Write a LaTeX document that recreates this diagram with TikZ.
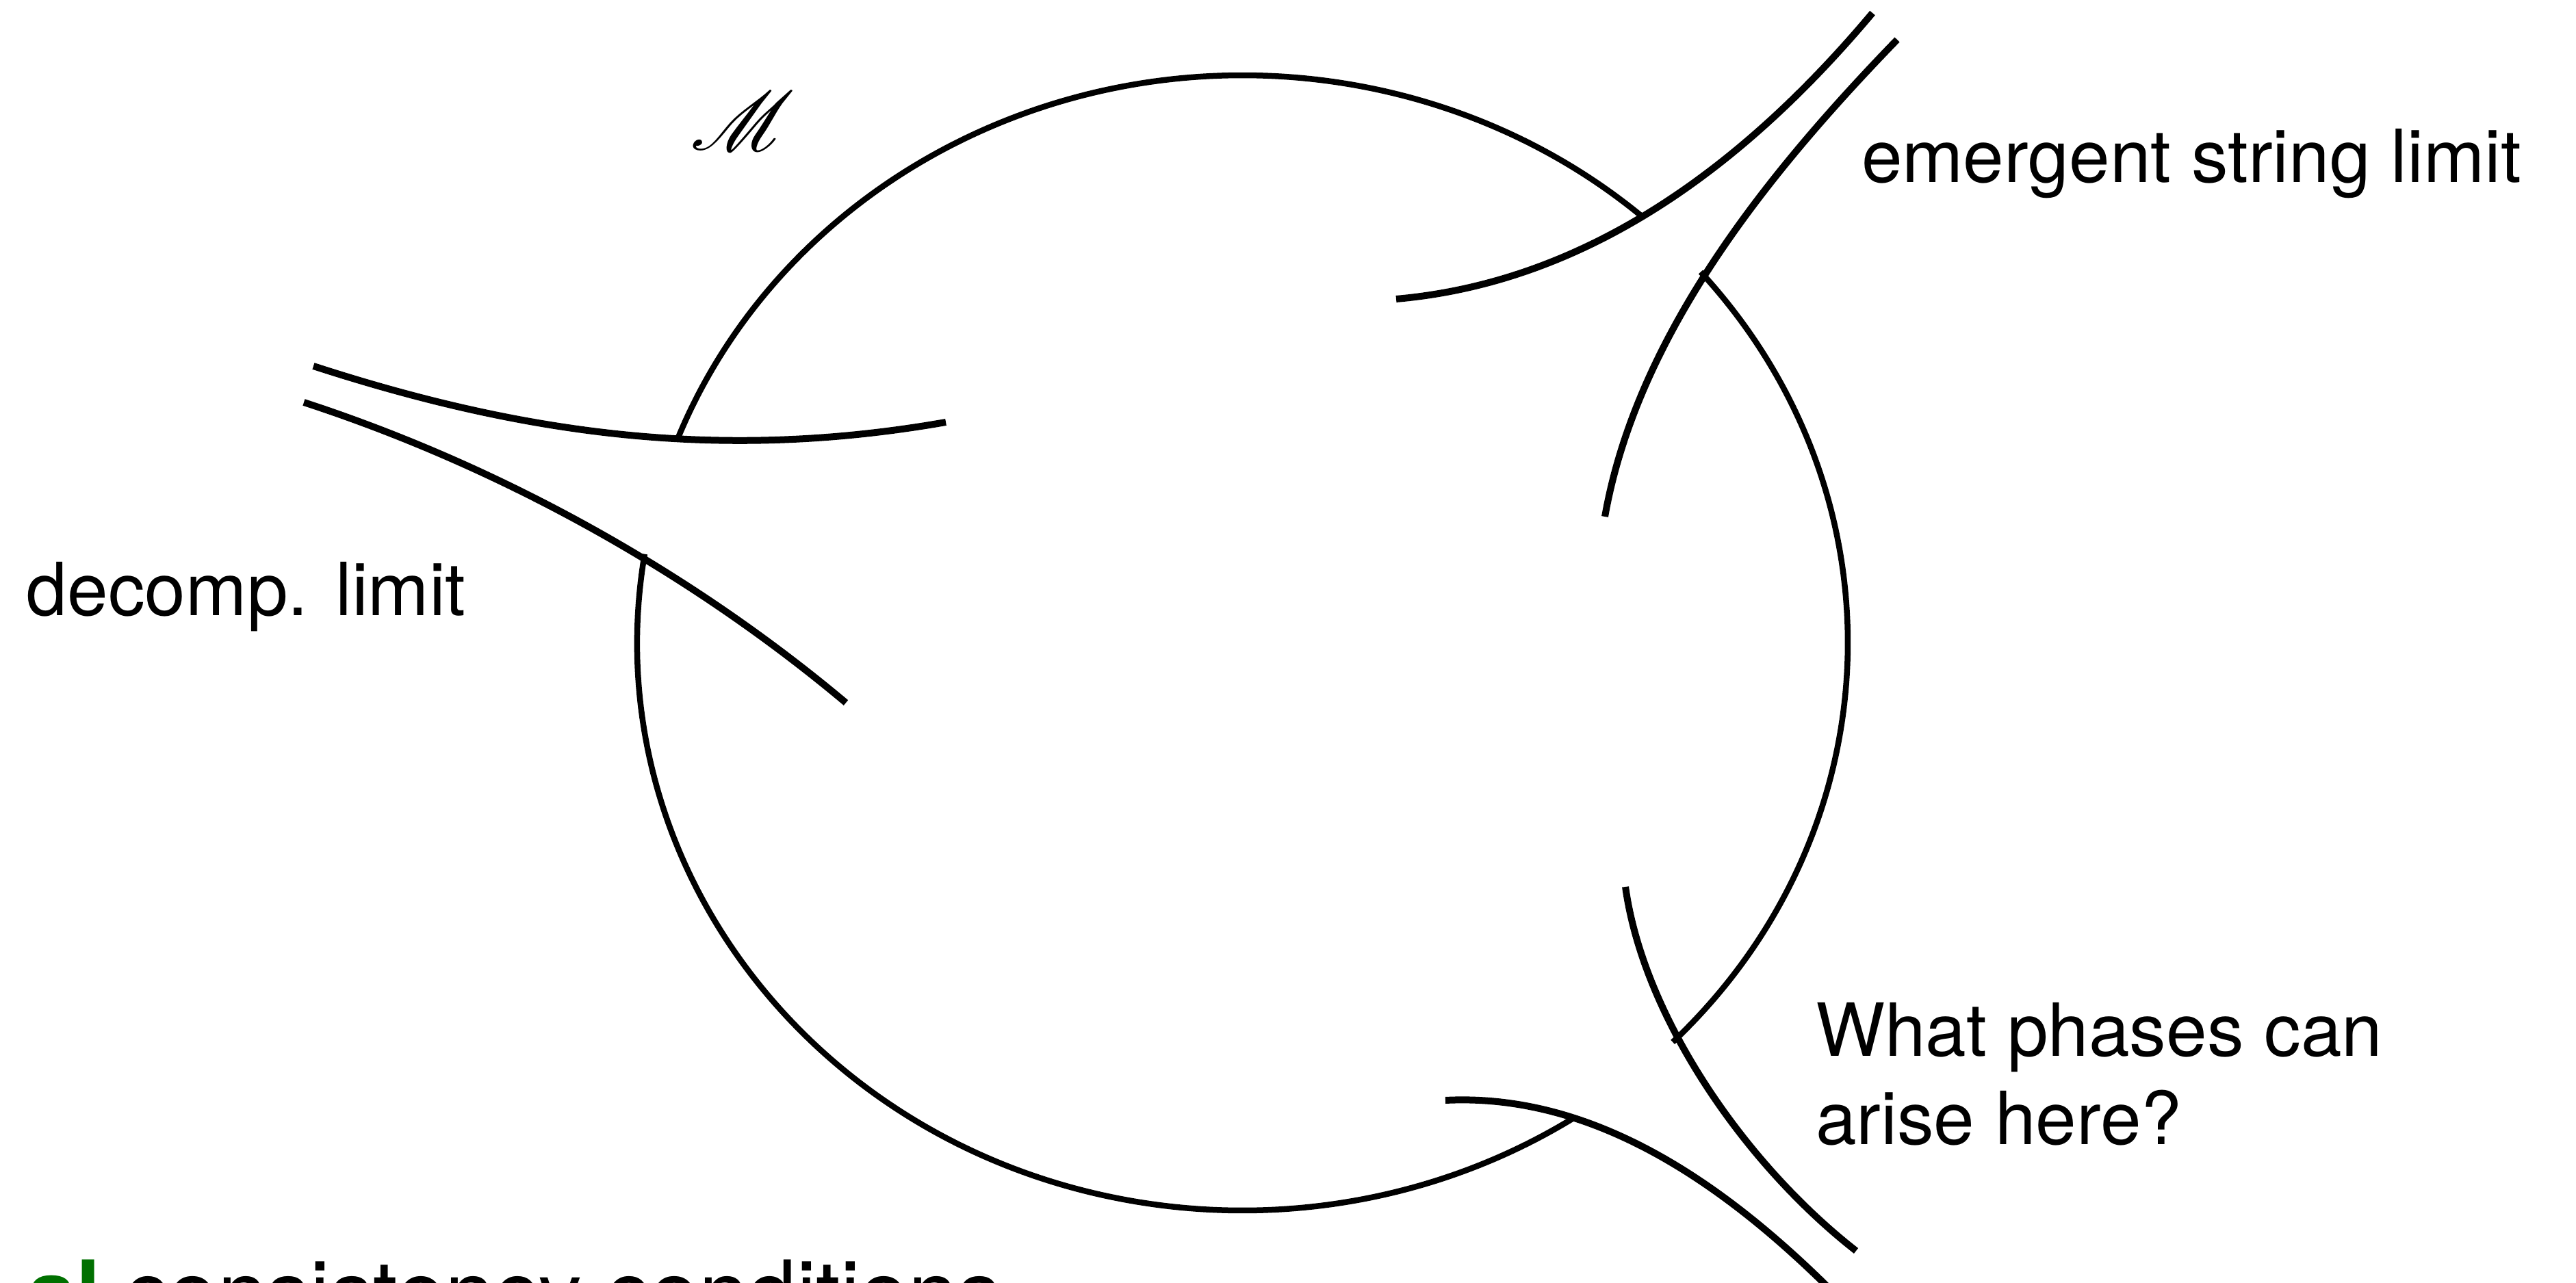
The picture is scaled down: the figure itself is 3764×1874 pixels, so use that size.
\documentclass[tikz,border=0pt]{standalone}
\usepackage{fontspec}
\usepackage{mathrsfs}
\setmainfont{TeX Gyre Heros}
\definecolor{limgreen}{HTML}{007000}
\tikzset{ms/.style={x=.1mm,y=.1mm,line width=1mm,font=\fontsize{30.5}{36.6}\selectfont},
  bdry/.style={line width=.85mm},
  lbl/.style={anchor=base west,inner sep=0pt}}

\begin{document}
\begin{tikzpicture}[ms]
  \useasboundingbox (0,0) rectangle (3764,1874);
  \coordinate (c) at (1815.5,934.5);
  % the moduli space, cut open where the limits run off
  \draw[bdry] ([shift={(48.5:88.45mm and 82.95mm)}]c) arc[start angle=48.5,end angle=158.9,x radius=88.45mm,y radius=82.95mm];
  \draw[bdry] ([shift={(-44.7:88.45mm and 82.95mm)}]c) arc[start angle=-44.7,end angle=40.8,x radius=88.45mm,y radius=82.95mm];
  \draw[bdry] ([shift={(171:88.45mm and 82.95mm)}]c) arc[start angle=171,end angle=303.1,x radius=88.45mm,y radius=82.95mm];
  % limits
  \draw (2040,1437) .. controls (2324,1462) and (2553,1637) .. (2736,1855);
  \draw (2345,1119) .. controls (2392,1385) and (2584,1622) .. (2772,1816);
  \draw (458,1339) .. controls (772,1237) and (1057,1200) .. (1382,1257);
  \draw (444,1286) .. controls (729,1193) and (1006,1040) .. (1236,847);
  \draw (2375,578) .. controls (2401,390) and (2547,175) .. (2712,46);
  \draw (2112,266) .. controls (2332,277) and (2524,140) .. (2680,-16);
  % labels
  \node[lbl] (esl) at (2715,1607) {emergent string limit};
  \node[lbl] (dec) at (34,974) {decomp. limit};
  \node[lbl] (phs) at (2648,331) {What phases can};
  \node[lbl] (phs2) at (2648,202) {arise here?};
  \node[inner sep=0pt] (M) at (1085,1697) {\scalebox{1.4}{$\mathscr{M}$}};
  \node[lbl,font=\fontsize{36.5}{44}\selectfont] (cons) at (35,-60) {\textcolor{limgreen}{\textbf{al}} consistency conditions};
\end{tikzpicture}
\end{document}
